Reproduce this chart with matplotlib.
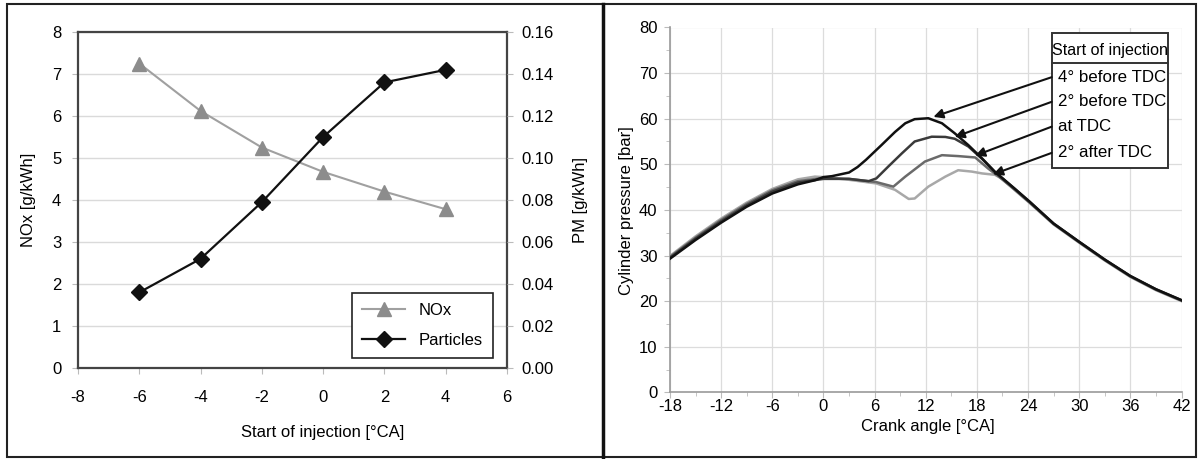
import matplotlib
matplotlib.use('Agg')
import matplotlib.pyplot as plt
from matplotlib.lines import Line2D
from matplotlib.patches import Rectangle

plt.rcParams['font.family'] = ['Liberation Sans', 'DejaVu Sans']
plt.rcParams['font.size'] = 12
plt.rcParams['axes.unicode_minus'] = False

# ---- left chart data ----
soi = [-6, -4, -2, 0, 2, 4]
nox = [7.25, 6.12, 5.25, 4.67, 4.2, 3.78]
pm = [0.036, 0.052, 0.079, 0.110, 0.136, 0.142]

# ---- right chart data (crank angle, pressure) ----
ca_4btdc = [-18, -15, -12, -9, -6, -3, -1, 0, 1, 3, 4, 5, 6.8, 8.4, 9.6, 10.7, 12.3, 13.9,
            15.4, 17, 18.6, 20.1, 22.4, 24.2, 27, 30, 33, 36, 39, 42]
p_4btdc = [29.3, 33.4, 37.2, 40.7, 43.6, 45.6, 46.5, 47.2, 47.4, 48.2, 49.4, 51.0, 54.2, 57.1,
           59.0, 59.9, 60.1, 59.0, 56.8, 54.2, 51.3, 48.4, 44.7, 41.8, 37.0, 33.0, 29.1, 25.5,
           22.6, 20.2]

ca_2btdc = [-18, -15, -12, -9, -6, -3, 0, 3, 5.3, 6.2, 7.6, 9.2, 10.7, 12.7, 14.3, 15.4,
            17, 18.6, 20.1, 22.4, 24.2, 27, 30, 33, 36, 39, 42]
p_2btdc = [29.5, 33.7, 37.5, 41.0, 44.0, 46.0, 46.8, 46.8, 46.3, 46.9, 49.5, 52.4, 55.0,
           56.05, 56.0, 55.6, 53.9, 51.2, 48.3, 44.7, 41.7, 37.0, 33.0, 29.1, 25.5, 22.6, 20.2]

ca_tdc = [-18, -15, -12, -9, -6, -3, 0, 3, 6.2, 8.2, 9.6, 11.9, 13.9, 15.8, 17.8, 19.3, 20.5,
          22.4, 24.2, 27, 30, 33, 36, 39, 42]
p_tdc = [29.7, 33.9, 37.8, 41.3, 44.3, 46.3, 47.0, 46.8, 46.1, 45.1, 47.3, 50.6, 52.0, 51.8,
         51.5, 49.1, 47.4, 44.5, 41.6, 36.9, 32.9, 29.0, 25.4, 22.5, 20.1]

ca_2atdc = [-18, -15, -12, -9, -6, -3, -1, 0, 3, 6.2, 8.4, 10, 10.7, 12.3, 14.3, 15.8, 17.4,
            18.6, 20.1, 20.9, 22.4, 24.2, 27, 30, 33, 36, 39, 42]
p_2atdc = [29.9, 34.2, 38.1, 41.6, 44.6, 46.7, 47.3, 47.2, 46.6, 45.8, 44.4, 42.4, 42.5, 45.1,
           47.3, 48.7, 48.4, 48.0, 47.7, 46.9, 44.4, 41.5, 36.8, 32.8, 28.9, 25.3, 22.4, 20.0]

labels = ['4\u00b0 before TDC', '2\u00b0 before TDC', 'at TDC', '2\u00b0 after TDC']
colors = ['#111111', '#3a3a3a', '#6a6a6a', '#a8a8a8']
tips = [(12.9, 60.4), (15.4, 56.0), (17.8, 51.9), (19.9, 47.8)]

W, H = 1198, 459
fig = plt.figure(figsize=(W / 100, H / 100), dpi=100)


def px(x0, y0, x1, y1):
    return [x0 / W, 1 - y1 / H, (x1 - x0) / W, (y1 - y0) / H]


# ======== left chart ========
ax = fig.add_axes(px(78, 32, 507, 368))
ax.set_xlim(-8, 6)
ax.set_ylim(0, 8)
ax.set_xticks(range(-8, 7, 2))
ax.set_yticks(range(0, 9))
ax.yaxis.grid(True, color='#dadada', lw=1)
ax.set_axisbelow(True)
for s in ax.spines.values():
    s.set_color('#444444')
    s.set_linewidth(1.6)
ax.tick_params(axis='x', length=4, color='#bbbbbb', pad=12)
ax.tick_params(axis='y', length=4, color='#bbbbbb', pad=8)
l1, = ax.plot(soi, nox, color='#a0a0a0', lw=1.5, marker='^', ms=10,
              mfc='#8c8c8c', mec='#8c8c8c', zorder=3)

ax2 = ax.twinx()
ax2.set_ylim(0, 0.16)
ax2.set_yticks([0.02 * i for i in range(9)])
ax2.set_yticklabels(['%.2f' % (0.02 * i) for i in range(9)])
ax2.tick_params(axis='y', length=4, color='#bbbbbb', pad=6)
for s in ax2.spines.values():
    s.set_visible(False)
l2, = ax2.plot(soi, pm, color='#111111', lw=1.6, marker='D', ms=8,
               mfc='#111111', mec='#111111', zorder=4)

leg = ax2.legend([l1, l2], ['NOx', 'Particles'], loc='lower right',
                 bbox_to_anchor=(0.967, 0.03), borderaxespad=0, fancybox=False,
                 edgecolor='#222222', framealpha=1, handlelength=2.6,
                 labelspacing=0.9, borderpad=0.6, handletextpad=0.8, fontsize=12)
leg.get_frame().set_linewidth(1.2)

fig.text(29 / W, 1 - 200 / H, 'NOx [g/kWh]', rotation=90, ha='center', va='center')
fig.text(580 / W, 1 - 200 / H, 'PM [g/kWh]', rotation=90, ha='center', va='center')
fig.text(323 / W, 1 - 433 / H, 'Start of injection [\u00b0CA]', ha='center', va='center')

# ======== right chart ========
bx = fig.add_axes(px(670, 27.5, 1181.5, 392.3))
bx.set_xlim(-18, 42)
bx.set_ylim(0, 80)
bx.set_xticks(range(-18, 43, 6))
bx.set_yticks(range(0, 81, 10))
bx.set_xticks(range(-15, 42, 6), minor=True)
bx.set_yticks(range(5, 80, 10), minor=True)
bx.grid(True, which='major', color='#dcdcdc', lw=0.9)
bx.set_axisbelow(True)
bx.spines['top'].set_visible(False)
bx.spines['right'].set_visible(False)
for k in ['left', 'bottom']:
    bx.spines[k].set_color('#9a9a9a')
    bx.spines[k].set_linewidth(1.2)
bx.tick_params(which='major', length=4, color='#bbbbbb')
bx.tick_params(which='minor', length=3, color='#bbbbbb')
bx.tick_params(axis='x', pad=1)
bx.tick_params(axis='y', pad=5)

series = [(ca_2atdc, p_2atdc), (ca_tdc, p_tdc), (ca_2btdc, p_2btdc), (ca_4btdc, p_4btdc)]
for (xs, ys), c in zip(series, colors[::-1]):
    bx.plot(xs, ys, color=c, lw=1.8, solid_joinstyle='round', zorder=3)

# legend box with title row
bx.add_patch(Rectangle((26.77, 49.1), 13.61, 29.75, facecolor='white',
                       edgecolor='#333333', lw=1.4, zorder=5))
bx.plot([26.77, 40.38], [72.16, 72.16], color='#333333', lw=1.4, zorder=6)
bx.text(33.57, 74.9, 'Start of injection', ha='center', va='center', fontsize=11.6, zorder=7)
entry_y = [69.1, 63.7, 58.25, 52.5]
for lab, yy, tip in zip(labels, entry_y, tips):
    bx.text(27.55, yy, lab, ha='left', va='center', fontsize=12.2, zorder=7)
    bx.annotate('', xy=tip, xytext=(26.77, yy),
                arrowprops=dict(arrowstyle='-|>', color='#111111', lw=1.5,
                                mutation_scale=14, shrinkA=0, shrinkB=0), zorder=6)

fig.text(627 / W, 1 - 211 / H, 'Cylinder pressure [bar]', rotation=90, ha='center', va='center')
fig.text(928 / W, 1 - 427 / H, 'Crank angle [\u00b0CA]', ha='center', va='center')

# panel borders
fig.add_artist(Rectangle((7 / W, 1 - 457 / H), 1189 / W, 453 / H, transform=fig.transFigure,
                         fill=False, edgecolor='#222222', lw=1.5))
fig.add_artist(Line2D([603 / W, 603 / W], [1 - 457 / H, 1 - 4 / H], transform=fig.transFigure,
                      color='#111111', lw=2.5))

fig.savefig('out.png', dpi=100)
